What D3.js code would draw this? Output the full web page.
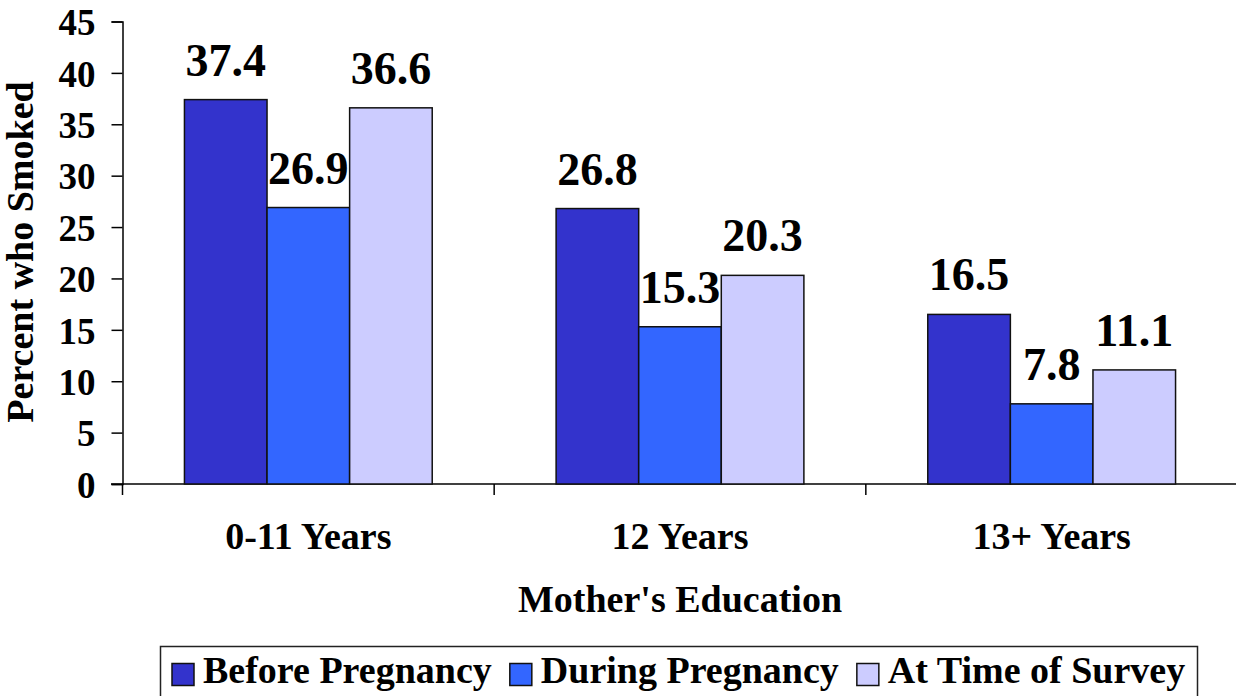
<!DOCTYPE html>
<html>
<head>
<meta charset="utf-8">
<script src="https://cdn.jsdelivr.net/npm/d3@7"></script>
<style>
  body { margin: 0; background: #fff; }
  svg text { font-family: "Liberation Serif", "Times New Roman", Times, serif; font-weight: bold; fill: #000; }
</style>
</head>
<body>
<div id="chart"></div>
<script>
const categories = ["0-11 Years", "12 Years", "13+ Years"];
const series = ["Before Pregnancy", "During Pregnancy", "At Time of Survey"];
const beforeValues = [37.4, 26.8, 16.5];
const duringValues = [26.9, 15.3, 7.8];
const surveyValues = [36.6, 20.3, 11.1];
const yTicks = [0, 5, 10, 15, 20, 25, 30, 35, 40, 45];
const colors = ["#3333CC", "#3366FF", "#CCCCFF"];

const values = [beforeValues, duringValues, surveyValues];
const data = [];
categories.forEach((c, i) => {
  series.forEach((s, j) => data.push({ cat: c, series: s, value: values[j][i] }));
});

const width = 1236, height = 696;
const serif = '"Liberation Serif", "Times New Roman", Times, serif';

const svg = d3.select("#chart")
  .append("svg")
  .attr("width", width)
  .attr("height", height);

const x = d3.scaleBand()
  .domain(categories)
  .range([122.5, 1237.5]);

const xInner = d3.scaleBand()
  .domain(series)
  .range([0, x.bandwidth()])
  .paddingOuter(0.75);

const y = d3.scaleLinear()
  .domain([0, 45])
  .range([484, 21.5]);

const color = d3.scaleOrdinal()
  .domain(series)
  .range(colors);

// y axis
const yAxis = svg.append("g")
  .attr("transform", "translate(122.5,0)")
  .call(d3.axisLeft(y).tickValues(yTicks).tickSize(11).tickPadding(16))
  .attr("font-family", serif);
yAxis.select(".domain").attr("stroke", "#000").attr("stroke-width", 1.5);
yAxis.selectAll(".tick line").attr("stroke", "#000").attr("stroke-width", 1.5);
yAxis.selectAll(".tick text")
  .attr("dy", "0.36em")
  .style("font-size", "37px")
  .style("font-family", serif)
  .style("font-weight", "bold");

// x axis line and boundary ticks
svg.append("line")
  .attr("x1", 111).attr("x2", 1237)
  .attr("y1", y(0)).attr("y2", y(0))
  .attr("stroke", "#000").attr("stroke-width", 1.5);

const bounds = categories.map(c => x(c)).concat([x.range()[1]]);
svg.selectAll(".xtick")
  .data(bounds)
  .join("line")
  .attr("class", "xtick")
  .attr("x1", d => d).attr("x2", d => d)
  .attr("y1", y(0)).attr("y2", y(0) + 11)
  .attr("stroke", "#000").attr("stroke-width", 1.5);

svg.selectAll(".xlabel")
  .data(categories)
  .join("text")
  .attr("class", "xlabel")
  .attr("x", d => x(d) + x.bandwidth() / 2)
  .attr("y", 549)
  .attr("text-anchor", "middle")
  .style("font-size", "38px")
  .text(d => d);

// bars
svg.selectAll(".bar")
  .data(data)
  .join("rect")
  .attr("class", "bar")
  .attr("x", d => x(d.cat) + xInner(d.series))
  .attr("y", d => y(d.value))
  .attr("width", xInner.bandwidth())
  .attr("height", d => y(0) - y(d.value))
  .attr("fill", d => color(d.series))
  .attr("stroke", "#111")
  .attr("stroke-width", 1.5);

svg.selectAll(".val")
  .data(data)
  .join("text")
  .attr("class", "val")
  .attr("x", d => x(d.cat) + xInner(d.series) + xInner.bandwidth() / 2)
  .attr("y", d => y(d.value) - 24)
  .attr("text-anchor", "middle")
  .style("font-size", "46px")
  .text(d => d.value.toFixed(1));

// axis titles
svg.append("text")
  .attr("transform", "translate(33,252) rotate(-90)")
  .attr("text-anchor", "middle")
  .style("font-size", "38px")
  .text("Percent who Smoked");

svg.append("text")
  .attr("x", 680)
  .attr("y", 612)
  .attr("text-anchor", "middle")
  .style("font-size", "38px")
  .text("Mother's Education");

// legend
const legend = svg.append("g");
legend.append("rect")
  .attr("x", 160.5).attr("y", 646.5)
  .attr("width", 1037).attr("height", 60)
  .attr("fill", "none")
  .attr("stroke", "#222")
  .attr("stroke-width", 1.5);

let lx = 172;
series.forEach(s => {
  legend.append("rect")
    .attr("x", lx).attr("y", 663.5)
    .attr("width", 22).attr("height", 22)
    .attr("fill", color(s))
    .attr("stroke", "#111")
    .attr("stroke-width", 1.5);
  const t = legend.append("text")
    .attr("x", lx + 31)
    .attr("y", 683)
    .style("font-size", "38px")
    .text(s);
  lx += 31 + t.node().getComputedTextLength() + 18;
});
</script>
</body>
</html>
